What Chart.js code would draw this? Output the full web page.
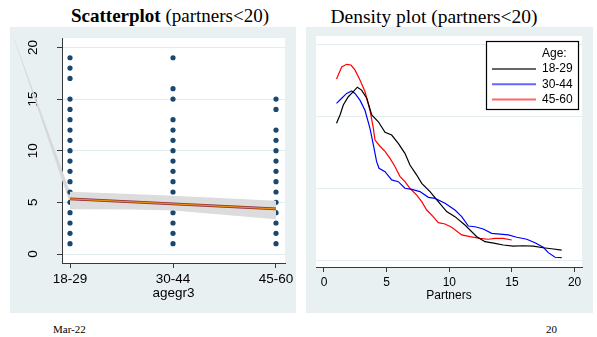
<!DOCTYPE html>
<html><head><meta charset="utf-8">
<script src="https://cdn.jsdelivr.net/npm/chart.js@4/dist/chart.umd.min.js"></script>
<style>
html,body{margin:0;padding:0;background:#fff;}
body{width:597px;height:337px;position:relative;overflow:hidden;}
.panel{position:absolute;background:#e9f0f2;}
.title{position:absolute;font-family:"Liberation Serif","Times New Roman",serif;white-space:nowrap;color:#000;text-align:center;}
.foot{position:absolute;font-family:"Liberation Serif","Times New Roman",serif;font-size:11px;line-height:11px;color:#000;white-space:nowrap;}
canvas{display:block;}
</style></head><body>
<div class="title" style="left:20px;top:6px;width:300px;font-size:19px;line-height:19px;"><b>Scatterplot</b> (partners&lt;20)</div>
<div class="title" style="left:284px;top:7px;width:300px;font-size:19.5px;line-height:19.5px;">Density plot (partners&lt;20)</div>
<div class="panel" style="left:10px;top:27px;width:286px;height:286px;"><canvas id="c1" width="286" height="286"></canvas></div>
<div class="panel" style="left:306px;top:27px;width:287px;height:286px;"><canvas id="c2" width="287" height="286"></canvas></div>
<div class="foot" style="left:53px;top:324px;">Mar-22</div>
<div class="foot" style="left:546px;top:324px;">20</div>
<script>
// ---------- Scatterplot data ----------
const groupLabels = ['18-29', '30-44', '45-60'];
const partners1829 = [1,2,3,4,5,6,7,8,9,10,11,12,13,14,15,17,18,19];
const partners3044 = [1,2,3,4,5,6,7,8,9,10,11,12,13,15,16,19];
const partners4560 = [1,2,3,4,5,6,7,8,9,10,11,12,14,15];
const scatterTicks = [0, 5, 10, 15, 20];
const fitY = [5.34, 4.85, 4.37];          // fitted values at groups 1..3
const ciX = [1, 1.6, 2, 3];
const ciUpper = [6.03, 5.8, 5.65, 5.16];
const ciLower = [4.33, 4.3, 4.2, 3.36];
const wedgeX = [0.4175, 1, 1];            // stray sliver of the CI area
const wedgeY = [21.97, 6.03, 4.9];

// ---------- Density data ----------
const densTicksX = [0, 5, 10, 15, 20];
const densTicksY = [0, 0.05, 0.10, 0.15];
const x1829 = [1.0,1.28,1.54,1.94,2.34,2.66,3.0,3.41,3.81,4.34,4.87,5.4,5.93,6.46,6.86,7.4,7.8,8.46,9.12,9.79,10.45,11.25,12.19,12.85,13.65,14.3,15.1,15.9,16.7,17.5,18.17,18.97];
const d1829 = [0.0949,0.1007,0.1076,0.1134,0.1169,0.12,0.118,0.1123,0.1007,0.096,0.0887,0.0868,0.081,0.0741,0.066,0.059,0.0532,0.0475,0.0405,0.0336,0.0301,0.0243,0.0162,0.0127,0.0116,0.0104,0.0097,0.0099,0.0097,0.0085,0.0078,0.0069];
const x3044 = [1.0,1.41,1.81,2.21,2.47,2.87,3.27,3.67,3.94,4.2,4.39,4.87,5.4,5.93,6.46,7.0,7.66,8.33,8.86,9.66,10.45,10.99,11.52,12.05,12.71,13.38,14.05,14.71,15.38,16.18,16.84,17.5,17.9,18.44,18.97];
const d3044 = [0.1088,0.1123,0.1157,0.1174,0.1157,0.111,0.104,0.0914,0.0799,0.0683,0.0637,0.0613,0.0556,0.0544,0.0498,0.049,0.0475,0.0435,0.0428,0.0394,0.0347,0.0301,0.0236,0.0231,0.0215,0.0185,0.018,0.0174,0.0158,0.0144,0.012,0.0088,0.0051,0.0019,0.0016];
const x4560 = [1.0,1.41,1.81,2.15,2.47,2.87,3.27,3.67,3.94,4.07,4.47,4.87,5.27,5.67,6.07,6.46,6.86,7.4,7.8,8.2,8.73,9.12,9.66,10.19,10.99,11.65,12.45,13.1,13.65,14.3,14.98];
const d4560 = [0.1257,0.134,0.1359,0.1354,0.132,0.125,0.117,0.104,0.0914,0.0833,0.079,0.0755,0.0706,0.0648,0.0579,0.0544,0.0498,0.0451,0.0405,0.0347,0.030,0.0259,0.025,0.0227,0.0174,0.0162,0.015,0.0144,0.015,0.015,0.0139];

Chart.defaults.font.family = '"Liberation Sans", Arial, sans-serif';
Chart.defaults.color = '#000';

const AXIS = '#3a3a3a';
const GRID = '#e3ecef';
const BAND = '#dcdcdc';
const WEDGE = '#d6d8d9';

const whiteArea = {
  id: 'whiteArea',
  beforeDraw(chart) {
    const {ctx, chartArea: a} = chart;
    ctx.save();
    ctx.fillStyle = '#ffffff';
    ctx.fillRect(a.left, a.top, a.right - a.left, a.bottom - a.top);
    ctx.restore();
  }
};

// stray sliver of the CI area, placed through the chart's scales
const wedgePlugin = {
  id: 'wedgePlugin',
  beforeDatasetsDraw(chart) {
    const {ctx, scales: {x, y}} = chart;
    ctx.save();
    ctx.fillStyle = WEDGE;
    ctx.beginPath();
    wedgeX.forEach((vx, i) => {
      const px = x.getPixelForValue(vx), py = y.getPixelForValue(wedgeY[i]);
      if (i === 0) ctx.moveTo(px, py); else ctx.lineTo(px, py);
    });
    ctx.closePath();
    ctx.fill();
    ctx.restore();
  }
};

const pts = [];
[partners1829, partners3044, partners4560].forEach((arr, gi) => arr.forEach(v => pts.push({x: gi + 1, y: v})));
const upperPts = ciX.map((x, i) => ({x, y: ciUpper[i]}));
const lowerPts = ciX.map((x, i) => ({x, y: ciLower[i]}));
const fitPts = fitY.map((y, i) => ({x: i + 1, y}));

new Chart(document.getElementById('c1'), {
  type: 'scatter',
  data: {datasets: [
    {label: 'partners', data: pts, pointRadius: 2.6, pointBackgroundColor: '#1a476f', backgroundColor: '#1a476f', pointBorderWidth: 0, order: 3},
    {label: 'ci upper', type: 'line', data: upperPts, showLine: true, fill: '+1', backgroundColor: BAND, borderColor: BAND, borderWidth: 0, pointRadius: 0, order: 2},
    {label: 'ci lower', type: 'line', data: lowerPts, showLine: true, fill: false, backgroundColor: BAND, borderColor: BAND, borderWidth: 0, pointRadius: 0, order: 2},
    {label: 'Fitted', type: 'line', data: fitPts, showLine: true, borderColor: '#8b2a3c', backgroundColor: '#8b2a3c', borderWidth: 2.6, pointRadius: 0, fill: false, order: 1},
    {label: 'Fitted2', type: 'line', data: fitPts, showLine: true, borderColor: '#f08c14', backgroundColor: '#f08c14', borderWidth: 1.2, pointRadius: 0, fill: false, order: 0}
  ]},
  options: {
    responsive: false, animation: false, events: [],
    layout: {padding: {top: 11, right: 11, left: 0, bottom: 0}},
    plugins: {legend: {display: false}, tooltip: {enabled: false}},
    scales: {
      x: {
        type: 'linear', min: 0.9223, max: 3.0874,
        afterBuildTicks: s => { s.ticks = groupLabels.map((_, i) => ({value: i + 1})); },
        ticks: {callback: v => groupLabels[Math.round(v) - 1], font: {size: 13.5}, color: '#000', padding: 3, maxRotation: 0, minRotation: 0},
        grid: {drawOnChartArea: false, tickLength: 5, tickColor: AXIS},
        border: {color: AXIS, width: 1},
        title: {display: true, text: 'agegr3', font: {size: 13.5}, color: '#000', padding: {top: 0, bottom: 12}},
        afterFit: s => { s.height = 50; s.paddingLeft = 0; s.paddingRight = 0; }
      },
      y: {
        type: 'linear', min: -0.871, max: 20.91,
        afterBuildTicks: s => { s.ticks = scatterTicks.map(v => ({value: v})); },
        ticks: {minRotation: 90, maxRotation: 90, crossAlign: 'center', padding: 16, font: {size: 13.5}, color: '#000'},
        grid: {color: GRID, tickLength: 5, tickColor: AXIS},
        border: {color: AXIS, width: 1},
        afterFit: s => { s.width = 52; s.paddingTop = 0; s.paddingBottom = 0; }
      }
    }
  },
  plugins: [whiteArea, wedgePlugin]
});

// density chart legend (box with title)
const boxLegend = {
  id: 'boxLegend',
  afterDraw(chart) {
    const {ctx, chartArea: a} = chart;
    const r = a.right - 3, t = a.top + 5, w = 93, h = 69;
    const l = r - w;
    ctx.save();
    ctx.fillStyle = '#fff';
    ctx.fillRect(l, t, w, h);
    ctx.strokeStyle = '#000';
    ctx.lineWidth = 1.2;
    ctx.strokeRect(l + 0.5, t + 0.5, w - 1, h - 1);
    ctx.font = '12px "Liberation Sans", Arial, sans-serif';
    ctx.fillStyle = '#000';
    ctx.textBaseline = 'middle';
    ctx.textAlign = 'left';
    const tx = l + 56;
    ctx.fillText('Age:', tx, t + 12.5);
    chart.data.datasets.forEach((ds, i) => {
      const y = t + 28 + i * 15.3;
      ctx.globalAlpha = 0.6;
      ctx.strokeStyle = ds.borderColor;
      ctx.lineWidth = 2;
      ctx.beginPath();
      ctx.moveTo(l + 6, y); ctx.lineTo(l + 50, y);
      ctx.stroke();
      ctx.globalAlpha = 1;
      ctx.fillStyle = '#000';
      ctx.fillText(ds.label, tx, y);
    });
    ctx.restore();
  }
};

const toPts = (xs, ys) => xs.map((x, i) => ({x, y: ys[i]}));
new Chart(document.getElementById('c2'), {
  type: 'scatter',
  data: {datasets: [
    {label: groupLabels[0], data: toPts(x1829, d1829), showLine: true, borderColor: '#000000', borderWidth: 1.2, pointRadius: 0, tension: 0},
    {label: groupLabels[1], data: toPts(x3044, d3044), showLine: true, borderColor: '#0000ff', borderWidth: 1.2, pointRadius: 0, tension: 0},
    {label: groupLabels[2], data: toPts(x4560, d4560), showLine: true, borderColor: '#ff0000', borderWidth: 1.2, pointRadius: 0, tension: 0}
  ]},
  options: {
    responsive: false, animation: false, events: [],
    layout: {padding: {top: 9, right: 11, left: 10, bottom: 0}},
    plugins: {legend: {display: false}, tooltip: {enabled: false}},
    scales: {
      x: {
        type: 'linear', min: -0.638, max: 20.59,
        afterBuildTicks: s => { s.ticks = densTicksX.map(v => ({value: v})); },
        ticks: {font: {size: 12}, color: '#000', padding: 3, maxRotation: 0, minRotation: 0},
        grid: {drawOnChartArea: false, tickLength: 5, tickColor: AXIS},
        border: {color: AXIS, width: 1},
        title: {display: true, text: 'Partners', font: {size: 12}, color: '#000', padding: {top: 0, bottom: 10}},
        afterFit: s => { s.height = 46; s.paddingLeft = 0; s.paddingRight = 0; }
      },
      y: {
        type: 'linear', min: -0.00486, max: 0.15556,
        afterBuildTicks: s => { s.ticks = densTicksY.map(v => ({value: v})); },
        ticks: {display: false},
        grid: {color: GRID, drawTicks: false},
        border: {display: false},
        afterFit: s => { s.width = 0; }
      }
    }
  },
  plugins: [whiteArea, boxLegend]
});
</script>
</body></html>
